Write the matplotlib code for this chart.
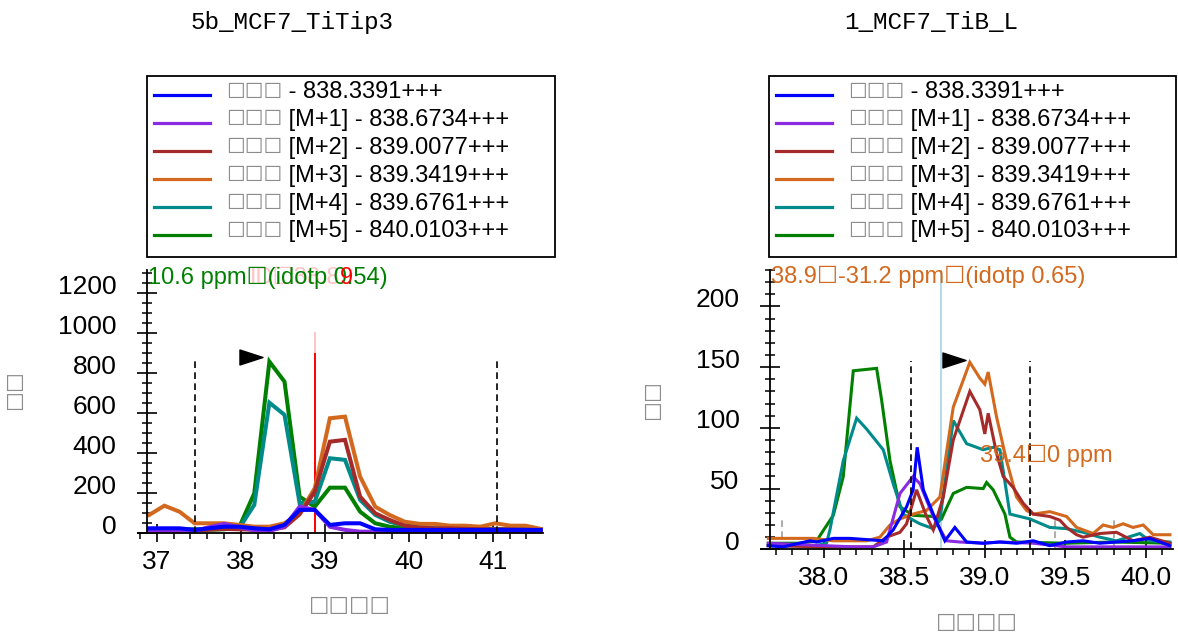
#!/usr/bin/env python3
import matplotlib
matplotlib.use("Agg")
import matplotlib.pyplot as plt
from matplotlib.patches import Rectangle
from matplotlib.path import Path
from matplotlib.ticker import MultipleLocator, FormatStrFormatter
from matplotlib.transforms import ScaledTranslation, blended_transform_factory

FIG_W, FIG_H, DPI = 1178, 637, 100

TOFU = "\u2610"
BOX_GRAY = "#8c8c8c"
TRACE_COLORS = ["#0000ff", "#8a2be2", "#a52a2a", "#d2691e", "#008b8b", "#008000"]
LEGEND_HEAD = TOFU * 3
LEGEND_TAILS = [
    " - 838.3391+++",
    " [M+1] - 838.6734+++",
    " [M+2] - 839.0077+++",
    " [M+3] - 839.3419+++",
    " [M+4] - 839.6761+++",
    " [M+5] - 840.0103+++",
]

# left panel: 5b_MCF7_TiTip3
left_title = "5b_MCF7_TiTip3"
left_rt = [36.91, 37.09, 37.27, 37.45, 37.62, 37.80, 37.98, 38.16, 38.34,
           38.52, 38.70, 38.88, 39.06, 39.24, 39.42, 39.60, 39.77, 39.95,
           40.13, 40.31, 40.49, 40.67, 40.85, 41.03, 41.21, 41.39, 41.57]
left_m0 = [25, 25, 25, 17, 25, 33, 33, 25, 20, 42, 117, 117, 42, 50, 50, 20,
           17, 17, 17, 17, 17, 17, 17, 17, 17, 17, 17]
left_m1 = [12, 10, 10, 12, 30, 47, 30, 15, 12, 33, 133, 117, 33, 17, 8, 8,
           8, 8, 8, 8, 8, 8, 8, 8, 8, 8, 8]
left_m2 = [15, 12, 12, 15, 18, 22, 20, 18, 18, 30, 95, 208, 458, 467, 183, 100,
           67, 38, 28, 25, 25, 22, 20, 20, 20, 18, 15]
left_m3 = [92, 138, 108, 50, 50, 50, 42, 33, 33, 50, 100, 225, 575, 583, 283, 133,
           92, 58, 47, 47, 38, 38, 33, 50, 38, 38, 22]
left_m4 = [20, 20, 20, 20, 22, 25, 25, 142, 653, 592, 150, 158, 375, 367, 167, 92,
           58, 38, 30, 25, 25, 22, 22, 22, 20, 20, 18]
left_m5 = [18, 18, 18, 18, 18, 20, 30, 200, 858, 758, 183, 133, 228, 228, 108, 50,
           33, 25, 20, 20, 20, 18, 18, 18, 18, 18, 18]
left_bounds = [37.456, 41.05]
left_best_rt = 38.884
left_arrow = (38.126, 879)
left_note = "10.6 ppm" + TOFU + "(idotp 0.54)"
left_id_note = "ID" + TOFU + "38.8"

# right panel: 1_MCF7_TiB_L
right_title = "1_MCF7_TiB_L"
right_m0_rt = [37.655, 37.748, 37.914, 37.955, 38.059, 38.162, 38.369, 38.431, 38.514,
               38.555, 38.580, 38.618, 38.680, 38.752, 38.814, 38.887, 38.990, 39.094,
               39.197, 39.301, 39.404, 39.508, 39.611, 39.714, 39.921, 40.025, 40.15]
right_m0 = [3, 2, 7, 6, 9, 9, 7, 16, 35, 49, 84, 49, 29, 7, 18, 6, 5, 6, 5, 7, 3,
            6, 7, 5, 7, 9, 3]
right_m1_rt = [37.655, 38.183, 38.307, 38.390, 38.473, 38.555, 38.597, 38.680, 38.762,
               38.845, 38.990, 39.094, 39.301, 39.508, 40.15]
right_m1 = [5, 2, 2, 6, 46, 60, 54, 27, 7, 6, 5, 6, 5, 2, 2]
right_m2_rt = [37.655, 38.0, 38.307, 38.390, 38.473, 38.514, 38.576, 38.638, 38.680,
               38.742, 38.804, 38.907, 38.969, 39.000, 39.021, 39.073, 39.114, 39.176,
               39.238, 39.301, 39.404, 39.466, 39.508, 39.570, 39.611, 39.714, 39.818,
               39.921, 40.025, 40.15]
right_m2 = [3, 2, 2, 10, 14, 21, 49, 27, 16, 43, 90, 130, 115, 95, 112, 79, 60, 51,
            38, 29, 27, 24, 18, 12, 10, 13, 14, 7, 10, 5]
right_m3_rt = [37.655, 37.852, 37.934, 38.059, 38.266, 38.348, 38.411, 38.473, 38.555,
               38.638, 38.721, 38.804, 38.907, 38.969, 39.000, 39.021, 39.073, 39.135,
               39.197, 39.259, 39.301, 39.404, 39.508, 39.570, 39.673, 39.735, 39.797,
               39.859, 39.921, 39.984, 40.046, 40.15]
right_m3 = [9, 9, 9, 7, 7, 10, 20, 25, 29, 32, 43, 117, 154, 141, 136, 146, 109, 73,
            43, 32, 29, 31, 27, 18, 13, 20, 18, 21, 18, 20, 12, 12]
right_m4_rt = [37.655, 37.95, 38.017, 38.038, 38.121, 38.204, 38.266, 38.369, 38.431,
               38.493, 38.555, 38.597, 38.680, 38.721, 38.804, 38.887, 38.990, 39.052,
               39.094, 39.156, 39.280, 39.404, 39.508, 39.611, 39.714, 39.818, 39.963,
               40.025, 40.15]
right_m4 = [3, 3, 5, 16, 73, 108, 99, 82, 54, 29, 24, 21, 17, 24, 106, 87, 82, 84,
            82, 29, 25, 18, 17, 14, 10, 7, 13, 7, 6]
right_m5_rt = [37.655, 37.85, 37.955, 38.059, 38.121, 38.183, 38.328, 38.359, 38.411,
               38.473, 38.555, 38.680, 38.731, 38.804, 38.887, 38.990, 39.011, 39.052,
               39.125, 39.156, 39.197, 39.5, 39.8, 40.15]
right_m5 = [5, 5, 7, 28, 60, 147, 149, 123, 73, 35, 28, 27, 25, 46, 51, 50, 55, 49,
            29, 10, 6, 5, 6, 5]
right_bounds = [38.54, 39.28]
right_best_rt = 38.73
right_id_rts = [37.74, 39.436, 39.80]
right_arrow = (38.807, 156)
right_note = "38.9" + TOFU + "-31.2 ppm" + TOFU + "(idotp 0.65)"
right_peak_note = "39.4" + TOFU + "0 ppm"

plt.rcParams["font.family"] = ["Liberation Sans", "DejaVu Sans"]

ARROW = Path([(-1, 0.65), (1, 0), (-1, -0.65), (-1, 0.65)],
             [Path.MOVETO, Path.LINETO, Path.LINETO, Path.CLOSEPOLY])


def fx(px):
    return px / FIG_W


def fy(py):
    return 1 - py / FIG_H


def make_axes(fig, left, right, top, bottom, xlim, spine_x, ylim,
              xmajor, xminor, ymajor, yminor, xfmt):
    ax = fig.add_axes([fx(left), fy(bottom), fx(right) - fx(left), (bottom - top) / FIG_H])
    ax.set_xlim(*xlim)
    ax.set_ylim(*ylim)
    for side in ("top", "right"):
        ax.spines[side].set_visible(False)
    ax.spines["left"].set_position(("data", spine_x))
    for side in ("left", "bottom"):
        ax.spines[side].set_linewidth(1.3)
    ax.xaxis.set_major_locator(MultipleLocator(xmajor))
    ax.xaxis.set_minor_locator(MultipleLocator(xminor))
    ax.xaxis.set_major_formatter(FormatStrFormatter(xfmt))
    ax.yaxis.set_major_locator(MultipleLocator(ymajor))
    ax.yaxis.set_minor_locator(MultipleLocator(yminor))
    ax.tick_params(axis="x", which="major", direction="inout", length=12.5, width=1.2,
                   pad=6, labelsize=19)
    ax.tick_params(axis="x", which="minor", direction="out", length=4, width=1.1)
    ax.tick_params(axis="y", which="major", direction="inout", length=14.4, width=1.2,
                   pad=14.5, labelsize=19)
    ax.tick_params(axis="y", which="minor", direction="inout", length=7.2, width=1.1)
    # labels in the original sit a little above their ticks
    shift = ScaledTranslation(0, 0.09, fig.dpi_scale_trans)
    for lbl in ax.get_yticklabels():
        lbl.set_transform(lbl.get_transform() + shift)
    return ax


def draw_traces(ax, traces, lw):
    # heaviest isotope first so the monoisotopic trace ends up on top
    for (rt, vals), color in reversed(list(zip(traces, TRACE_COLORS))):
        ax.plot(rt, vals, color=color, lw=lw, solid_joinstyle="miter")


def draw_legend(fig, ax, box, line_x, text_x):
    x0, y0, x1, y1 = box
    fig.add_artist(Rectangle((fx(x0), fy(y1)), fx(x1) - fx(x0), fy(y0) - fy(y1),
                             transform=fig.transFigure, fill=False,
                             edgecolor="black", lw=1.3))
    for i, (tail, color) in enumerate(zip(LEGEND_TAILS, TRACE_COLORS)):
        row = 95 + i * 27.9
        fig.add_artist(plt.Line2D([fx(line_x[0]), fx(line_x[1])], [fy(row), fy(row)],
                                  transform=fig.transFigure, color=color, lw=2.3))
        head = fig.text(fx(text_x), fy(row - 3), LEGEND_HEAD, color=BOX_GRAY,
                        fontsize=15, ha="left", va="center")
        ax.annotate(tail, xy=(1, 0.5), xycoords=head, ha="left", va="center",
                    fontsize=17, color="black", annotation_clip=False)


fig = plt.figure(figsize=(FIG_W / DPI, FIG_H / DPI), dpi=DPI)

# ---- left panel
axl = make_axes(fig, 137.5, 543, 270, 533.3, (36.77, 41.597), 36.88, (0, 1316),
                1, 0.2, 200, 50, "%d")
draw_traces(axl, [(left_rt, left_m0), (left_rt, left_m1), (left_rt, left_m2),
                  (left_rt, left_m3), (left_rt, left_m4), (left_rt, left_m5)], 2.9)
for b in left_bounds:
    axl.plot([b, b], [0, 866], color="black", lw=1.2, dashes=(4, 2.6))
axl.plot([left_best_rt, left_best_rt], [0, 905], color="#ff0000", lw=1.4, zorder=1)
axl.plot([left_best_rt, left_best_rt], [905, 1001], color="#ffc4c4", lw=1.4, zorder=1)
axl.plot(*left_arrow, marker=ARROW, markersize=16.6, color="black", linestyle="none")
blend_l = blended_transform_factory(axl.transData, axl.transAxes)
axl.text(39.182, 0.9696, left_id_note, transform=blend_l, color="#ffc4c4", fontsize=17,
         ha="right", va="center", zorder=3)
axl.text(0.026, 0.9696, left_note, transform=axl.transAxes, color="#008000", fontsize=17,
         ha="left", va="center", zorder=4)
axl.text(39.182, 0.9696, "9", transform=blend_l, color="#ff0000", fontsize=17,
         ha="left", va="center", zorder=5)

# ---- right panel
axr = make_axes(fig, 760.7, 1173, 270, 549.3, (37.608, 40.169), 37.663, (0, 230),
                0.5, 0.1, 50, 10, "%.1f")
axr.plot([right_best_rt, right_best_rt], [0, 230], color="#add8e6", lw=1.3, zorder=1)
for r in right_id_rts:
    axr.plot([r, r], [0, 27], color="#a0a0a0", lw=1.2, dashes=(4, 2.6), zorder=1)
draw_traces(axr, [(right_m0_rt, right_m0), (right_m1_rt, right_m1),
                  (right_m2_rt, right_m2), (right_m3_rt, right_m3),
                  (right_m4_rt, right_m4), (right_m5_rt, right_m5)], 2.2)
for b in right_bounds:
    axr.plot([b, b], [0, 155], color="black", lw=1.2, dashes=(4, 2.6))
axr.plot(*right_arrow, marker=ARROW, markersize=16.6, color="black", linestyle="none")
axr.text(0.025, 0.975, right_note, transform=axr.transAxes, color="#d2691e", fontsize=17,
         ha="left", va="center")
axr.text(38.97, 77, right_peak_note, color="#d2691e", fontsize=17, ha="left", va="center")

# ---- titles, axis labels, legends
fig.text(fx(292), fy(22), left_title, family="Liberation Mono", fontsize=17.5,
         ha="center", va="center")
fig.text(fx(931), fy(22), right_title, family="Liberation Mono", fontsize=17.5,
         ha="center", va="center")
fig.text(fx(350), fy(607), TOFU * 4, color=BOX_GRAY, fontsize=16.5, ha="center", va="center")
fig.text(fx(977), fy(624), TOFU * 4, color=BOX_GRAY, fontsize=16.5, ha="center", va="center")
fig.text(fx(17), fy(390), TOFU * 2, color=BOX_GRAY, fontsize=16, rotation=90,
         ha="center", va="center")
fig.text(fx(655), fy(400), TOFU * 2, color=BOX_GRAY, fontsize=16, rotation=90,
         ha="center", va="center")

draw_legend(fig, axl, (147, 76, 555, 257), (154, 210), 226)
draw_legend(fig, axr, (769, 76, 1176, 257), (776, 832), 848)

fig.savefig("out.png", dpi=DPI)
